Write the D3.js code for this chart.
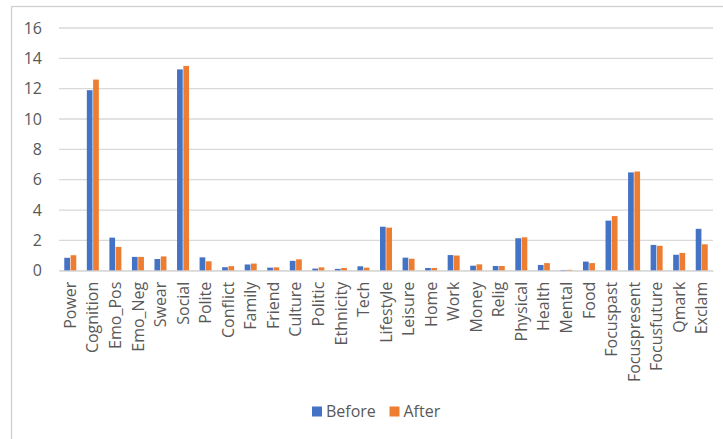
<!DOCTYPE html>
<html>
<head>
<meta charset="utf-8">
<script src="https://cdn.jsdelivr.net/npm/d3@7"></script>
<style>
  html, body { margin: 0; padding: 0; background: #fff; }
  svg { display: block; font-family: "Open Sans", "Noto Sans", sans-serif; }
</style>
</head>
<body>
<svg id="chart" width="723" height="439"></svg>
<script>
// Categories and mean scores before and after
const categories = ["Power", "Cognition", "Emo_Pos", "Emo_Neg", "Swear", "Social", "Polite",
  "Conflict", "Family", "Friend", "Culture", "Politic", "Ethnicity", "Tech", "Lifestyle",
  "Leisure", "Home", "Work", "Money", "Relig", "Physical", "Health", "Mental", "Food",
  "Focuspast", "Focuspresent", "Focusfuture", "Qmark", "Exclam"];
const before = [0.85, 11.9, 2.18, 0.91, 0.77, 13.27, 0.88, 0.23, 0.41, 0.2, 0.65, 0.14,
  0.12, 0.29, 2.9, 0.86, 0.18, 1.03, 0.33, 0.31, 2.14, 0.38, 0.03, 0.6,
  3.3, 6.48, 1.7, 1.05, 2.76];
const after = [1.02, 12.6, 1.57, 0.91, 0.94, 13.5, 0.62, 0.3, 0.47, 0.22, 0.75, 0.22,
  0.18, 0.2, 2.84, 0.79, 0.18, 1.0, 0.42, 0.31, 2.2, 0.5, 0.06, 0.5,
  3.6, 6.54, 1.64, 1.17, 1.74];
const seriesNames = ["Before", "After"];
const seriesColors = ["#4472C4", "#ED7D31"];
const yTicks = [0, 2, 4, 6, 8, 10, 12, 14, 16];

const svg = d3.select("#chart");
const x0 = 59, x1 = 713;
const yTop = 28, yBase = 270.7;

// outer chart frame
svg.append("rect")
  .attr("x", 11.5).attr("y", 6.5)
  .attr("width", 740).attr("height", 460)
  .attr("fill", "none").attr("stroke", "#d0d0d0").attr("stroke-width", 1.3);

const x = d3.scaleBand().domain(categories).range([x0, x1]).paddingInner(0).paddingOuter(0);
const xs = d3.scaleBand().domain(seriesNames).range([-6, 6.6]).padding(0);
const y = d3.scaleLinear().domain([0, 16]).range([yBase, yTop]);

// gridlines
svg.append("g").selectAll("line")
  .data(yTicks).join("line")
  .attr("x1", x0).attr("x2", x1)
  .attr("y1", d => y(d)).attr("y2", d => y(d))
  .attr("stroke", "#d9d9d9").attr("stroke-width", 1.3);

// y axis labels
const yAxis = d3.axisLeft(y).tickValues(yTicks).tickSize(0).tickPadding(0);
const gy = svg.append("g").attr("transform", `translate(42,0)`).call(yAxis);
gy.select(".domain").remove();
gy.selectAll("text")
  .attr("fill", "#595959").attr("font-size", 16)
  .attr("font-family", "'Open Sans', sans-serif");

// bars
const data = categories.map((c, i) => ({ c, vals: [before[i], after[i]] }));
const groups = svg.append("g").selectAll("g")
  .data(data).join("g")
  .attr("transform", d => `translate(${x(d.c) + x.bandwidth() / 2},0)`);
groups.selectAll("rect")
  .data(d => d.vals.map((v, k) => ({ v, k })))
  .join("rect")
  .attr("x", d => xs(seriesNames[d.k]))
  .attr("width", xs.bandwidth() - 0.6)
  .attr("y", d => y(d.v))
  .attr("height", d => Math.max(0.8, yBase - y(d.v)))
  .attr("fill", d => seriesColors[d.k]);

// x axis
const xAxis = d3.axisBottom(x).tickSize(0).tickPadding(0);
const gx = svg.append("g").attr("transform", `translate(0,${yBase})`).call(xAxis);
gx.select(".domain").attr("stroke", "#d9d9d9").attr("stroke-width", 1.3);
gx.selectAll("text")
  .attr("fill", "#595959").attr("font-size", 16)
  .attr("font-family", "'Open Sans', sans-serif")
  .attr("transform", "rotate(-90)")
  .attr("text-anchor", "end")
  .attr("dy", "0.35em")
  .attr("x", -11).attr("y", 0);

// legend
const legend = svg.append("g");
const legendX = [312, 389.5];
seriesNames.forEach((name, k) => {
  legend.append("rect")
    .attr("x", legendX[k]).attr("y", 406.5)
    .attr("width", 10).attr("height", 10)
    .attr("fill", seriesColors[k]);
  legend.append("text")
    .attr("x", legendX[k] + 14).attr("y", 411.5)
    .attr("dy", "0.35em")
    .attr("fill", "#595959").attr("font-size", 16)
    .text(name);
});
</script>
</body>
</html>
